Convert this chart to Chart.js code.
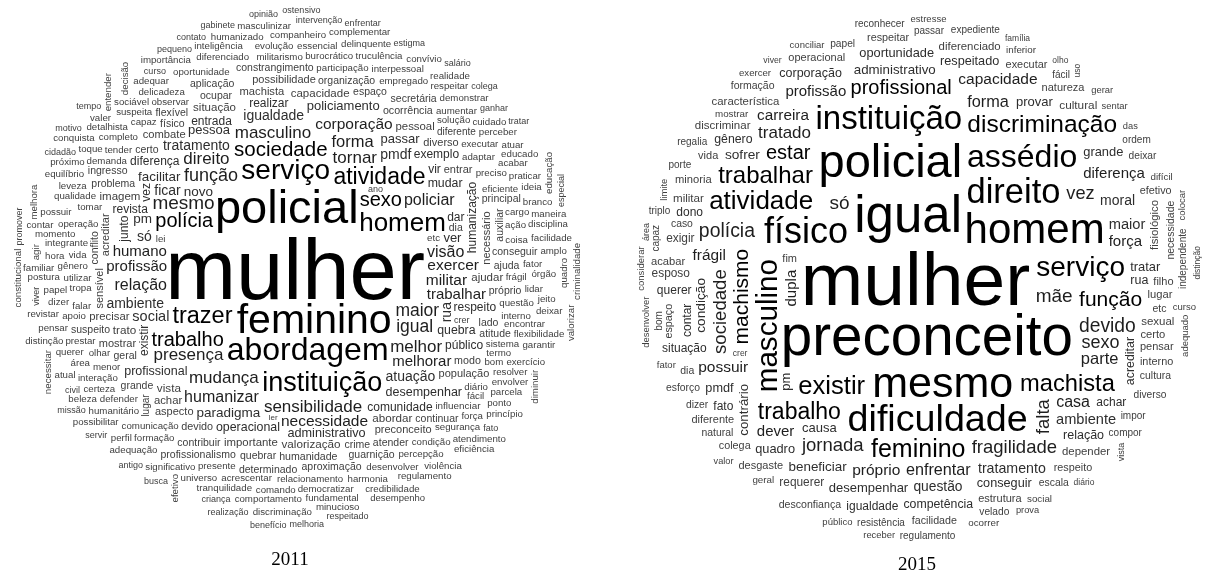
<!doctype html>
<html>
<head>
<title>Nuvens de palavras 2011 e 2015</title>
<script src="https://cdn.jsdelivr.net/npm/chart.js@4.4.0/dist/chart.umd.min.js"></script>
<style>
  body { margin: 0; background: #fff; }
  #box2011 { position: absolute; left: 0; top: 0; width: 600px; height: 577px; }
  #box2015 { position: absolute; left: 600px; top: 0; width: 609px; height: 577px; }
</style>
</head>
<body>
<div id="box2011"><canvas id="c2011"></canvas></div>
<div id="box2015"><canvas id="c2015"></canvas></div>
<script>
// ---- 2011 ----
const words2011 = [
  'mulher','policial','feminino','instituição','abordagem','trazer','serviço','atividade','homem','sociedade',
  'sexo','polícia','mesmo','mudança','trabalho','função','tornar','policiar','presença','maior',
  'masculino','sensibilidade','melhor','corporação','direito','exercer','necessidade','humanizar','igualdade','profissão',
  'militar','visão','melhorar','ambiente','situação','igual','humano','ficar','trabalhar','forma',
  'pmdf','profissional','existir','necessário','social','paradigma','relação','atuação','pm','comunidade',
  'tratamento','desempenhar','pessoa','humanização','acreditar','administrativo','novo','só','ver','facilitar',
  'revista','passar','operacional','abordar','quebra','junto','rua','capacidade','valorização','mostrar',
  'diferença','precisar','entrar','mudar','respeito','dar','entrada','importante','policiamento','diferente',
  'população','imagem','ajudar','aspecto','problema','vez','possibilidade','realizar','vista','geral',
  'exemplo','trato','humanidade','vir','modo','achar','dia','público','machista','preconceito',
  'pessoal','ocorrência','sensível','certo','ocupar','crime','físico','devido','combate','organização',
  'lado','espaço','grande','próprio','quebrar','atitude','diverso','contribuir','atender','flexível',
  'continuar','guarnição','aplicação','constrangimento','aproximação','conseguir','determinado','ajuda','ingresso','secretária',
  'suspeito','principal','profissionalismo','lugar','conflito','auxiliar','adaptar','influenciar','participação','comunicação',
  'demanda','preciso','operação','eficiente','observar','tomar','menor','questão','desempenho','sistema',
  'relacionamento','tropa','utilizar','olhar','tender','falar','frágil','capaz','completo','solução',
  'empregado','gênero','termo','diário','oportunidade','vida','defender','executar','integrante','militarismo',
  'interno','ação','coisa','presente','condição','bom','formação','burocrático','acrescentar','desenvolver',
  'interação','qualidade','prestar','cargo','delicadeza','aumentar','segurança','fácil','percepção','interpessoal',
  'humanitário','apoio','suspeita','democratizar','diferenciado','fator','resolver','harmonia','comando','evolução',
  'detalhista','essencial','truculência','encontrar','demonstrar','leveza','força','tranquilidade','certeza','lidar',
  'lei','flexibilidade','significativo','envolver','área','sociável','dizer','papel','possuir','acabar',
  'perceber','fundamental','toque','querer','adequar','respeitar','praticar','universo','hora','inteligência',
  'comportamento','órgão','companheiro','cuidado','parcela','delinquente','exercício','equilíbrio','regulamento','momento',
  'credibilidade','adequação','disciplina','branco','facilidade','etc','pensar','importância','postura','ponto',
  'educado','ideia','garantir','humanizado','atendimento','complementar','possibilitar','revistar','próximo','realidade',
  'familiar','atuar','amplo','maneira','jeito','deixar','princípio','violência','beleza','perfil',
  'minucioso','conquista','valer','convívio','eficiência','distinção','contar','atual','discriminação','masculinizar',
  'quadro','agir','entender','educação','necessitar','decisão','criminalidade','constitucional','diminuir','efetivo',
  'melhora','valorizar','confiança',
  'curso','viver','demográfico','promover','ano','ganhar','criança','fato','pequeno','especial',
  'cidadão','intervenção','estigma','respeitado','realização','busca','crer','antigo','servir','missão',
  'tempo','civil','gabinete','opinião','contato','enfrentar','ingressar','indispensável','colega','melhoria',
  'benefício','motivo','extremo','ostensivo','competente','influência','salário','limitação','tratar','ditadura',
  'cumprimento','dedicado','ler'
];
const freq2011 = [
  85,47,41,27,32,23.5,28,23,26,20.5,
  20,20,19,17,20,18,17,16,17,17.5,
  17,17,17,15.5,17,15.5,15.5,16,14,15,
  15.5,16,15,14,11.5,17.5,15,14,15,16.5,
  14,12.5,12,11,14.5,13.5,16,14,13.5,12,
  14,12.5,13,12,11,12.7,13.5,14,13,13.4,
  12,13,12.4,11.6,12.3,12,14,11.5,11.7,11,
  12,11.3,11,12.3,12,12,12,11.4,13,10,
  11,11.5,11.5,11,10.5,12,11,12,11.7,10.5,
  12,11.7,10.6,12,10.7,11.3,10.5,12,11.2,11,
  11.4,10.7,11,10.5,10.5,10.5,10.5,10.8,11.2,10.5,
  10.5,10.5,10.5,10.5,10.5,10.5,11,10.5,10.5,10.5,
  10.5,10.5,10.5,10.5,10.5,10.5,10.5,10.5,10.5,10.5,
  10.5,10.5,10.5,10,10.5,10.5,9.7,9.9,9.7,9.7,
  9.7,9.7,9.7,9.7,9.7,9.7,9.7,9.7,9.5,9.7,
  9.7,9.7,9.7,9.7,9.7,9.7,9.7,9.7,9.7,9.7,
  9.7,9.7,9.7,9.7,9.7,9.7,9.7,9.7,9.7,9.7,
  9.7,9.7,9.7,9.7,9.7,9.7,9.7,9.7,9.7,9.7,
  9.7,9.7,9.7,9.7,9.7,9.7,9.7,9.7,9.7,9.7,
  9.7,9.7,9.7,9.7,9.7,9.7,9.7,9.7,9.7,9.7,
  9.7,9.7,9.7,9.7,9.7,9.7,9.7,9.7,9.7,9.7,
  9.7,9.7,9.7,9.7,9.7,9.7,9.7,9.7,9.7,9.7,
  9.7,9.7,9.7,9.7,9.7,9.7,9.7,9.7,9.7,9.7,
  9.7,9.7,9.7,9.7,9.7,9.7,9.7,9.7,9.7,9.7,
  9.7,9.7,9.7,9.7,9.7,9.7,9.7,9.7,9.7,9.7,
  9.7,9.7,9.7,9.7,9.7,9.7,9.7,9.7,9.7,9.7,
  9.7,9.7,9.7,9.7,9.7,9.7,9.7,9.7,9.7,9.7,
  9.7,9.7,9.7,9.7,9.7,9.7,9.7,9.7,9.7,9.7,
  9.7,9.7,9.7,9.7,9.7,9.7,9.7,9.7,9.7,9.7,
  9.7,9.7,9.7,
  9,9,9,9,9,9,9,9,9,9,
  9,9,9,9,9,9,9,9,9,9,
  9,9,9,9,9,9,9,9,9,9,
  9,9,9,9,9,9,9,9,9,9,
  9,9,8
];
const vertical2011 = ['existir','necessário','humanização','acreditar','junto','rua','vez','sensível','lugar',
  'conflito','auxiliar','quadro','agir','entender','educação','necessitar','decisão','criminalidade',
  'constitucional','diminuir','efetivo','melhora','valorizar','confiança','viver','demográfico','promover',
  'especial','ingressar','extremo','cumprimento','dedicado'];

// ---- 2015 ----
const words2015 = [
  'mulher','preconceito','igual','policial','mesmo','homem','dificuldade','físico','instituição','assédio',
  'masculino','direito','serviço','feminino','discriminação','trabalhar','atividade','existir','machismo','machista',
  'sociedade','profissional','falta','trabalho','jornada','devido','vez','estar','função','só',
  'sexo','dupla','maior','polícia','fragilidade','tratado','mãe','enfrentar','carreira','tratamento',
  'profissão','ambiente','forma','força','moral','próprio','capacidade','beneficiar','desempenhar','causa',
  'casa','diferença','parte','condição','frágil','dever','questão','possuir','sofrer','situação',
  'relação','conseguir','grande','respeitado','competência','corporação','rua','oportunidade','administrativo','pmdf',
  'quadro','achar','igualdade','lugar','dono','minoria','acreditar','querer','contrário','contar',
  'esposo','característica','acabar','requerer','certo','diferenciado','depender','gênero','fato','estrutura',
  'natureza','cultura','cultural','operacional','militar','provar','executar','tratar','pm','sexual',
  'pensar','respeito','diferente','deixar','passar','dia','etc','escala','exigir','colega',
  'diverso','respeitar','facilidade','impor','velado','desconfiança','esforço','inferior','discriminar','missão',
  'desgaste','resistência','preconceituoso','fim','caso','formação','filho','interno','regulamento','vida',
  'compor','ordem','valorizar','papel','bom','fisiológico','independente','paradigma','opinião','adaptação',
  'antiguidade','limitação','necessário','incapaz','sentar','valor','desigualdade','natural','apoio','olho',
  'diário','instalação','problema','dispensar','confiança','diferenciação','igualitário','acontecer','mostrar','treinamento',
  'assediar','expediente','postura','fator','realizar','pensamento','geral','porte','difícil','regalia',
  'particularidade','emocional','social','abordagem','público','prova','pessoal','promoção','ocorrer','exercício',
  'peculiaridade','exercer','efetivo','dizer','receber','viver','número','ocupar','triplo','curso',
  'fácil','independer','reconhecer','princípio','momento','gerar','estresse','conciliar','adequado','desenvolver',
  'área','capaz','limite','considerar','colocar','vista','espaço','necessidade','atuação','das',
  'melhor','crer','família','distinção','uso'
];
const freq2015 = [
  75,56.5,51,47,43,42,37.7,36,33,32,
  29.6,34.5,28,25,24.5,24,26,25.6,21,23.7,
  18.6,20,18.5,23,18.5,19.3,18.2,20,21,19,
  18,15,14.7,19.4,18.5,17,19,16.2,15.3,14.2,
  15,14.6,16.3,15,14,15.5,15.5,13.4,13,13,
  16,15,16.5,13.7,15.4,15,13.8,15.5,13.7,12,
  12.5,12.7,12.9,12.7,12.3,12.5,12.5,12.8,13.3,12.7,
  12.8,12,12,11.2,12,11.2,12.4,12,13.3,12,
  11.9,11.4,11.2,11.9,11.2,11.4,11.4,12.3,12,11,
  11,10.4,11.8,11,11.6,13,10.9,12.9,13,11.5,
  11,10.8,11,10.2,10,10.5,10.5,10.4,11.9,10.8,
  10.2,10.8,10.7,10,10.2,10.6,10.4,9.8,11.5,8.9,
  11,10,10,11,10.4,10.5,11,10.9,10,11,
  10,10,9.3,10.2,10,11.4,10,9.5,9.3,9.3,
  9.3,9.3,9.1,9.7,9.4,9.2,9.3,10.4,9,8.5,
  8.5,9.3,9.2,8.5,9.3,9.2,8.9,9.1,9.8,9.9,
  9.7,10,9,9.5,9,9.4,9.8,10,9.8,10,
  8.9,9.2,9.8,8.5,9.5,9.3,9.3,9,9.8,9.3,
  9.5,9.6,10.8,10.3,9.4,8.7,9.4,9.3,10,9.5,
  10,9.4,10,9.4,9.2,9.4,9.5,9.5,9.5,9.5,
  9,10,9.5,9.5,9.5,9,10.8,10.5,9.4,9.3,
  8.5,8.5,8.5,8.5,8.5
];
const vertical2015 = ['masculino','machismo','sociedade','falta','dupla','condição','acreditar','contrário',
  'contar','pm','bom','fisiológico','independente','adequado','desenvolver','área','capaz','limite',
  'considerar','colocar','vista','espaço','necessidade','atuação','distinção','uso'];

const FONT = '"Liberation Sans", Arial, Helvetica, sans-serif';
const GAP = 3;        // spiral: radial growth per turn
const STEP = 2;       // spiral: arc step
const mctx = document.createElement('canvas').getContext('2d');

function colorOf(s) {
  if (s >= 20) return '#000';
  if (s >= 15) return '#1e1e1e';
  if (s >= 12) return '#2e2e2e';
  return '#404040';
}

// spiral placement, biggest word first, each word starts at the centre
function buildPoints(words, freqs, vertical, cx, cy, rx, ry, pad) {
  const order = words.map((w, i) => i).sort((a, b) => freqs[b] - freqs[a]);
  const cell = 16, grid = new Map(), pts = [];
  const key = (i, j) => (i + 64) * 4096 + (j + 64);
  const hits = (x0, y0, x1, y1) => {
    for (let i = Math.floor(x0 / cell); i <= Math.floor(x1 / cell); i++)
      for (let j = Math.floor(y0 / cell); j <= Math.floor(y1 / cell); j++) {
        const list = grid.get(key(i, j));
        if (!list) continue;
        for (const b of list) if (x0 < b[2] && x1 > b[0] && y0 < b[3] && y1 > b[1]) return true;
      }
    return false;
  };
  const add = (b) => {
    for (let i = Math.floor(b[0] / cell); i <= Math.floor(b[2] / cell); i++)
      for (let j = Math.floor(b[1] / cell); j <= Math.floor(b[3] / cell); j++) {
        const k = key(i, j);
        if (!grid.has(k)) grid.set(k, []);
        grid.get(k).push(b);
      }
  };
  const inside = (x, y) => ((x - cx) / rx) ** 2 + ((y - cy) / ry) ** 2 <= 1;
  const rmax = Math.max(rx, ry);
  order.forEach((idx, n) => {
    const text = words[idx], size = freqs[idx], vert = vertical.includes(text);
    mctx.font = size + 'px ' + FONT;
    const m = mctx.measureText(text);
    const p = pad * Math.min(1.6, Math.max(1, size / 14));
    const tw = m.actualBoundingBoxLeft + m.actualBoundingBoxRight + 2 * p;
    const th = m.actualBoundingBoxAscent + m.actualBoundingBoxDescent + 2 * p;
    const dx = -tw / 2 + p + m.actualBoundingBoxLeft;
    const dy = -th / 2 + p + m.actualBoundingBoxAscent;
    const bw = vert ? th : tw, bh = vert ? tw : th;
    const a0 = n * 2.39996;
    let t = 0;
    while (true) {
      const r = GAP * t / (2 * Math.PI);
      if (r > rmax) break;
      const x = cx + r * Math.cos(t + a0) * rx / ry;
      const y = cy + r * Math.sin(t + a0);
      const x0 = x - bw / 2, x1 = x + bw / 2, y0 = y - bh / 2, y1 = y + bh / 2;
      if (inside(x0, y0) && inside(x1, y0) && inside(x0, y1) && inside(x1, y1) && !hits(x0, y0, x1, y1)) {
        add([x0, y0, x1, y1]);
        pts.push({ x: x, y: y, t: text, s: size, v: vert, dx: dx, dy: dy });
        break;
      }
      t += Math.min(0.4, STEP / Math.max(r, 1));
    }
  });
  return pts;
}

const wordPlugin = {
  id: 'words',
  afterDatasetsDraw(chart) {
    const ctx = chart.ctx;
    chart.data.datasets.forEach((ds, di) => {
      chart.getDatasetMeta(di).data.forEach((pt, i) => {
        const d = ds.data[i];
        ctx.save();
        ctx.translate(pt.x, pt.y);
        if (d.v) ctx.rotate(-Math.PI / 2);
        ctx.font = d.s + 'px ' + FONT;
        ctx.fillStyle = colorOf(d.s);
        ctx.textAlign = 'left';
        ctx.textBaseline = 'alphabetic';
        ctx.fillText(d.t, d.dx, d.dy);
        ctx.restore();
      });
    });
  }
};

function makeCloud(id, label, pts, w, h, pad, titlePad) {
  return new Chart(document.getElementById(id), {
    type: 'scatter',
    data: { datasets: [{ label: label, data: pts, pointRadius: 0, pointHoverRadius: 0 }] },
    options: {
      responsive: true,
      maintainAspectRatio: false,
      animation: false,
      events: [],
      layout: { padding: pad },
      scales: {
        x: { type: 'linear', min: 0, max: w, display: false },
        y: { type: 'linear', min: 0, max: h, reverse: true, display: false }
      },
      plugins: {
        legend: { display: false },
        tooltip: { enabled: false },
        title: {
          display: true, text: label, position: 'bottom', color: '#000',
          font: { family: '"Liberation Serif", "Times New Roman", serif', size: 19, weight: 'normal' },
          padding: titlePad
        }
      }
    },
    plugins: [wordPlugin]
  });
}

const pts2011 = buildPoints(words2011, freq2011, vertical2011, 297, 268, 290, 265, 1.1);
const pts2015 = buildPoints(words2015, freq2015, vertical2015, 292, 278, 290, 268, 2.2);
makeCloud('c2011', '2011', pts2011, 580, 546, { right: 20 }, { top: 2, bottom: 6 });
makeCloud('c2015', '2015', pts2015, 584, 551, { left: 25 }, { top: 2, bottom: 1 });
</script>
</body>
</html>
